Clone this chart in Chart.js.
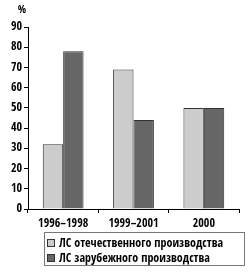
<!DOCTYPE html>
<html><head><meta charset="utf-8">
<script src="https://cdn.jsdelivr.net/npm/chart.js@4/dist/chart.umd.min.js"></script>
<style>html,body{margin:0;padding:0;background:#fff}canvas{display:block}</style>
</head><body>
<canvas id="c" width="250" height="276"></canvas>
<script>
const categories = ['1996–1998', '1999–2001', '2000'];
const domestic = [32, 69, 50];
const foreign = [78, 44, 50];
const seriesLabels = ['ЛС отечественного производства', 'ЛС зарубежного производства'];
const seriesColors = ['#cccccc', '#666666'];
const yUnit = '%';

const FONT = "'Open Sans Condensed', 'Liberation Sans Narrow', sans-serif";

const extras = {
  id: 'extras',
  afterDraw(chart) {
    const ctx = chart.ctx;
    const y = chart.scales.y;
    ctx.save();
    ctx.fillStyle = '#000';
    ctx.font = '11px ' + FONT;
    ctx.textAlign = 'center';
    ctx.textBaseline = 'middle';
    ctx.fillText(yUnit, y.right - 6, 10);
    // legend box
    const lx = 44.5, ly = 232.5, lw = 200, lh = 33;
    ctx.strokeStyle = '#777';
    ctx.lineWidth = 1;
    ctx.strokeRect(lx, ly, lw, lh);
    ctx.font = '12px ' + FONT;
    chart.data.datasets.forEach((ds, i) => {
      const cy = 243 + i * 15;
      ctx.fillStyle = ds.backgroundColor;
      ctx.fillRect(47.5, cy - 3.5, 7, 7);
      ctx.strokeStyle = '#333';
      ctx.strokeRect(47.5, cy - 3.5, 7, 7);
      ctx.fillStyle = '#000';
      ctx.textAlign = 'left';
      ctx.fillText(ds.label, 59, cy + 0.5);
    });
    ctx.restore();
  }
};

new Chart(document.getElementById('c'), {
  type: 'bar',
  data: {
    labels: categories,
    datasets: [
      { label: seriesLabels[0], data: domestic, backgroundColor: seriesColors[0], borderColor: '#333', borderWidth: 1 },
      { label: seriesLabels[1], data: foreign, backgroundColor: seriesColors[1], borderColor: '#333', borderWidth: 1 }
    ]
  },
  options: {
    responsive: false,
    animation: false,
    devicePixelRatio: 1,
    layout: { padding: { top: 27, right: 11, left: 0, bottom: 47 } },
    plugins: { legend: { display: false }, tooltip: { enabled: false } },
    datasets: { bar: { categoryPercentage: 0.58, barPercentage: 1 } },
    scales: {
      x: {
        grid: { display: true, drawOnChartArea: false, drawTicks: true, tickLength: 4, color: '#000', offset: true },
        border: { display: true, color: '#000', width: 1 },
        ticks: { color: '#000', font: { size: 12, family: FONT }, padding: 4, maxRotation: 0 },
        afterFit(s) { s.height = 20; }
      },
      y: {
        min: 0, max: 90,
        grid: { display: true, drawOnChartArea: false, drawTicks: true, tickLength: 4, color: '#000' },
        border: { display: true, color: '#000', width: 1 },
        ticks: { stepSize: 10, color: '#000', font: { size: 12, family: FONT }, padding: 2 },
        afterFit(s) { s.width = 28; }
      }
    }
  },
  plugins: [extras]
});
</script>
</body></html>
